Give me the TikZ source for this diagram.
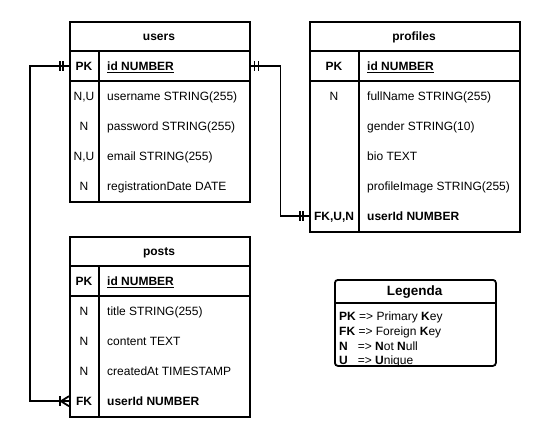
\documentclass[tikz,border=0pt]{standalone}
\usepackage{fontspec}
\setmainfont{Liberation Sans}
\newcommand\erow[6]{%
  \node[keyt] (#1-k) at (#2,#4) {#5};
  \node[fldt] (#1-f) at (#3,#4) {#6};}
\begin{document}
\begin{tikzpicture}[x=1pt,y=-1pt,
  lw/.style={line width=1.8pt},
  tbl/.style={draw, lw, anchor=north west, inner sep=0pt, fill=white},
  sepline/.style={lw},
  rowbox/.style={minimum height=30pt, inner sep=0pt, anchor=north west},
  keyt/.style={font=\fontsize{12}{14}\selectfont, inner sep=0pt, text height=8.6pt, text depth=0pt},
  fldt/.style={keyt, anchor=west},
  hdr/.style={keyt, font=\fontsize{12}{14}\selectfont\bfseries},
  conn/.style={lw},
  erbar/.style={lw}]
\useasboundingbox[fill=white] (0,0) rectangle (540,437);

% ---------- users ----------
\node[tbl, minimum width=180pt, minimum height=180pt] (users) at (69,21) {};
\draw[sepline] (69,51) -- (249,51);
\draw[sepline] (69,81) -- (249,81);
\draw[sepline] (99,51) -- (99,201);
\node[hdr] (users-title) at (159,36) {users};
\node[rowbox, minimum width=180pt] (uid) at (69,51) {};
\erow{u1}{84}{107}{66}{\bfseries PK}{\bfseries\underline{id NUMBER}}
\erow{u2}{84}{107}{96}{N,U}{username STRING(255)}
\erow{u3}{84}{107}{126}{N}{password STRING(255)}
\erow{u4}{84}{107}{156}{N,U}{email STRING(255)}
\erow{u5}{84}{107}{186}{N}{registrationDate DATE}

% ---------- profiles ----------
\node[tbl, minimum width=210pt, minimum height=210pt] (profiles) at (309,21) {};
\draw[sepline] (309,51) -- (519,51);
\draw[sepline] (309,81) -- (519,81);
\draw[sepline] (359,51) -- (359,231);
\node[hdr] (profiles-title) at (414,36) {profiles};
\node[rowbox, minimum width=210pt] (pruid) at (309,201) {};
\erow{p1}{334}{367}{66}{\bfseries PK}{\bfseries\underline{id NUMBER}}
\erow{p2}{334}{367}{96}{N}{fullName STRING(255)}
\erow{p3}{334}{367}{126}{}{gender STRING(10)}
\erow{p4}{334}{367}{156}{}{bio TEXT}
\erow{p5}{334}{367}{186}{}{profileImage STRING(255)}
\erow{p6}{334}{367}{216}{\bfseries FK,U,N}{\bfseries userId NUMBER}

% ---------- posts ----------
\node[tbl, minimum width=180pt, minimum height=180pt] (posts) at (69,236) {};
\draw[sepline] (69,266) -- (249,266);
\draw[sepline] (69,296) -- (249,296);
\draw[sepline] (99,266) -- (99,416);
\node[hdr] (posts-title) at (159,251) {posts};
\node[rowbox, minimum width=180pt] (pouid) at (69,386) {};
\erow{o1}{84}{107}{281}{\bfseries PK}{\bfseries\underline{id NUMBER}}
\erow{o2}{84}{107}{311}{N}{title STRING(255)}
\erow{o3}{84}{107}{341}{N}{content TEXT}
\erow{o4}{84}{107}{371}{N}{createdAt TIMESTAMP}
\erow{o5}{84}{107}{401}{\bfseries FK}{\bfseries userId NUMBER}

% ---------- connectors ----------
\draw[conn] (uid.west) -- ++(-39,0) |- (pouid.west);
\draw[conn] (uid.east) -- ++(31,0) |- (pruid.west);
% users left: mandatory one
\draw[erbar] ([xshift=-6pt,yshift=5pt]uid.west) -- ([xshift=-6pt,yshift=-5pt]uid.west);
\draw[erbar] ([xshift=-9pt,yshift=5pt]uid.west) -- ([xshift=-9pt,yshift=-5pt]uid.west);
% users right: mandatory one
\draw[erbar] ([xshift=5pt,yshift=5pt]uid.east) -- ([xshift=5pt,yshift=-5pt]uid.east);
\draw[erbar] ([xshift=9pt,yshift=5pt]uid.east) -- ([xshift=9pt,yshift=-5pt]uid.east);
% profiles: mandatory one
\draw[erbar] ([xshift=-6pt,yshift=5pt]pruid.west) -- ([xshift=-6pt,yshift=-5pt]pruid.west);
\draw[erbar] ([xshift=-9pt,yshift=5pt]pruid.west) -- ([xshift=-9pt,yshift=-5pt]pruid.west);
% posts: one or many
\draw[erbar] ([xshift=-9pt,yshift=5pt]pouid.west) -- ([xshift=-9pt,yshift=-5pt]pouid.west);
\draw[erbar] ([yshift=5pt]pouid.west) -- ([xshift=-8pt]pouid.west) -- ([yshift=-5pt]pouid.west);

% ---------- legend ----------
\node[draw, lw, rounded corners=3pt, anchor=north west, minimum width=161pt, minimum height=86pt, inner sep=0pt, fill=white] (legend) at (334,279) {};
\draw[sepline] (334,303) -- (495,303);
\node[keyt, font=\fontsize{13.5}{16}\selectfont\bfseries] (legend-title) at (414.5,291) {Legenda};
\node[anchor=north west, align=left, inner sep=0pt, font=\fontsize{12}{14.6}\selectfont] (legend-text) at (339,312)
  {{\bfseries PK} => Primary {\bfseries K}ey\\
   {\bfseries FK} => Foreign {\bfseries K}ey\\
   {\bfseries N}\ \ \ => {\bfseries N}ot {\bfseries N}ull\\
   {\bfseries U}\ \ \ => {\bfseries U}nique};
\end{tikzpicture}
\end{document}
